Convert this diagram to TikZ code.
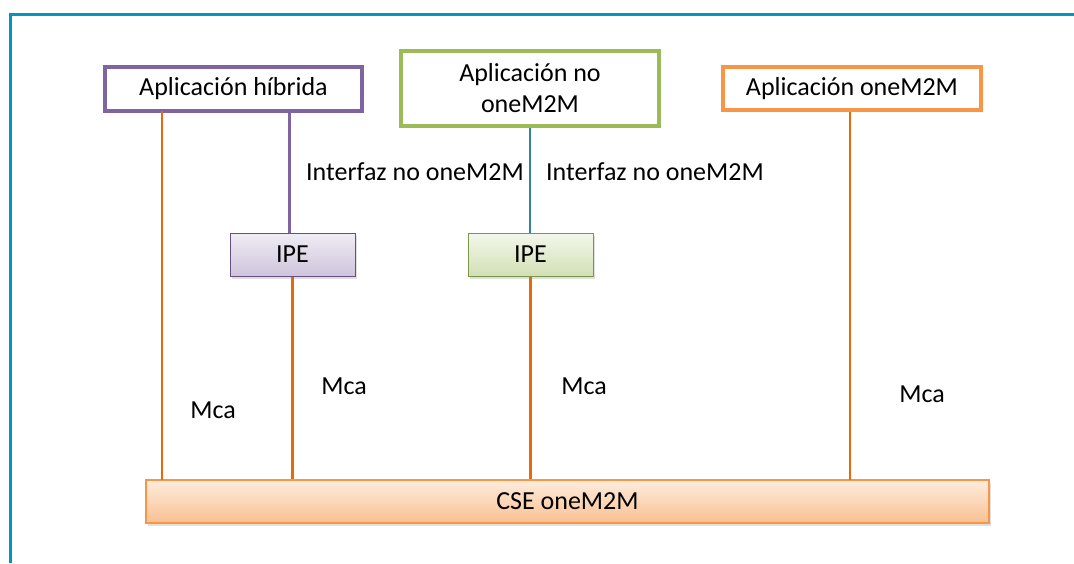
\documentclass[tikz,border=0pt]{standalone}
\usepackage{fontspec}
\setmainfont{Carlito}
\usetikzlibrary{shadows}
\definecolor{frameblue}{HTML}{0096C0}
\definecolor{hybpurple}{HTML}{8064A2}
\definecolor{nogreen}{HTML}{9BBB59}
\definecolor{appor}{HTML}{F79646}
\definecolor{linkor}{HTML}{E36C09}
\definecolor{linkteal}{HTML}{31849B}
\tikzset{
  txt/.style={font=\fontsize{26}{31}\selectfont},
  appbox/.style={draw=#1, line width=3.2pt, fill=white, inner sep=0pt, align=center, txt},
  ipebox/.style={draw=#1!80!black, line width=1pt, inner sep=0pt, txt,
    drop shadow={shadow xshift=1.5pt, shadow yshift=-2.5pt, opacity=0.25}},
  link/.style={line width=2.2pt, draw=linkor},
  lbl/.style={txt, inner sep=0pt}
}
\begin{document}
\begin{tikzpicture}[x=1pt,y=-1pt]
\useasboundingbox (0,0) rectangle (1074,563);
% outer frame, open to the right and bottom
\draw[frameblue, line width=3pt] (10,563) -- (10,14) -- (1074,14);

% applications
\node[appbox=hybpurple, minimum width=257pt, minimum height=44pt] (hyb) at (233.5,89) {Aplicación híbrida};
\node[appbox=nogreen, minimum width=258pt, minimum height=75pt] (non) at (530,88.5) {Aplicación no\\oneM2M};
\node[appbox=appor, minimum width=258pt, minimum height=43pt] (app) at (852,88.5) {Aplicación oneM2M};

% interworking proxies
\node[ipebox=hybpurple, minimum width=125pt, minimum height=43pt,
  top color=hybpurple!12, bottom color=hybpurple!38] (ipe1) at (292.5,254.5) {IPE};
\node[ipebox=nogreen, minimum width=125pt, minimum height=43pt,
  top color=nogreen!12, bottom color=nogreen!45] (ipe2) at (530.5,254.5) {IPE};

% common services entity
\node[draw=appor, line width=1.5pt, minimum width=843pt, minimum height=43pt, inner sep=0pt,
  top color=appor!18, bottom color=appor!60,
  drop shadow={shadow xshift=1.5pt, shadow yshift=-3pt, opacity=0.25},
  txt] (cse) at (567.5,501.5) {CSE oneM2M};

% reference points
\coordinate (h1) at (162,111);
\coordinate (c1) at (162,480);
\draw[link] (h1) -- (c1);
\draw[hybpurple, line width=2.2pt] (hyb.south -| ipe1.north west) ++(60,0) coordinate (h2) -- (h2 |- ipe1.north);
\draw[link] (ipe1.south) -- (ipe1.south |- cse.north);
\draw[linkteal, line width=2.2pt] (non.south) -- (non.south |- ipe2.north);
\draw[link] (ipe2.south) -- (ipe2.south |- cse.north);
\draw[link] (app.south -| 850,0) -- (850,480);

% labels
\node[lbl] (if1) at (415,172) {Interfaz no oneM2M};
\node[lbl] (if2) at (655,172) {Interfaz no oneM2M};
\node[lbl] (m1) at (213,410) {Mca};
\node[lbl] (m2) at (344,386) {Mca};
\node[lbl] (m3) at (584,386) {Mca};
\node[lbl] (m4) at (922,394) {Mca};
\end{tikzpicture}
\end{document}
